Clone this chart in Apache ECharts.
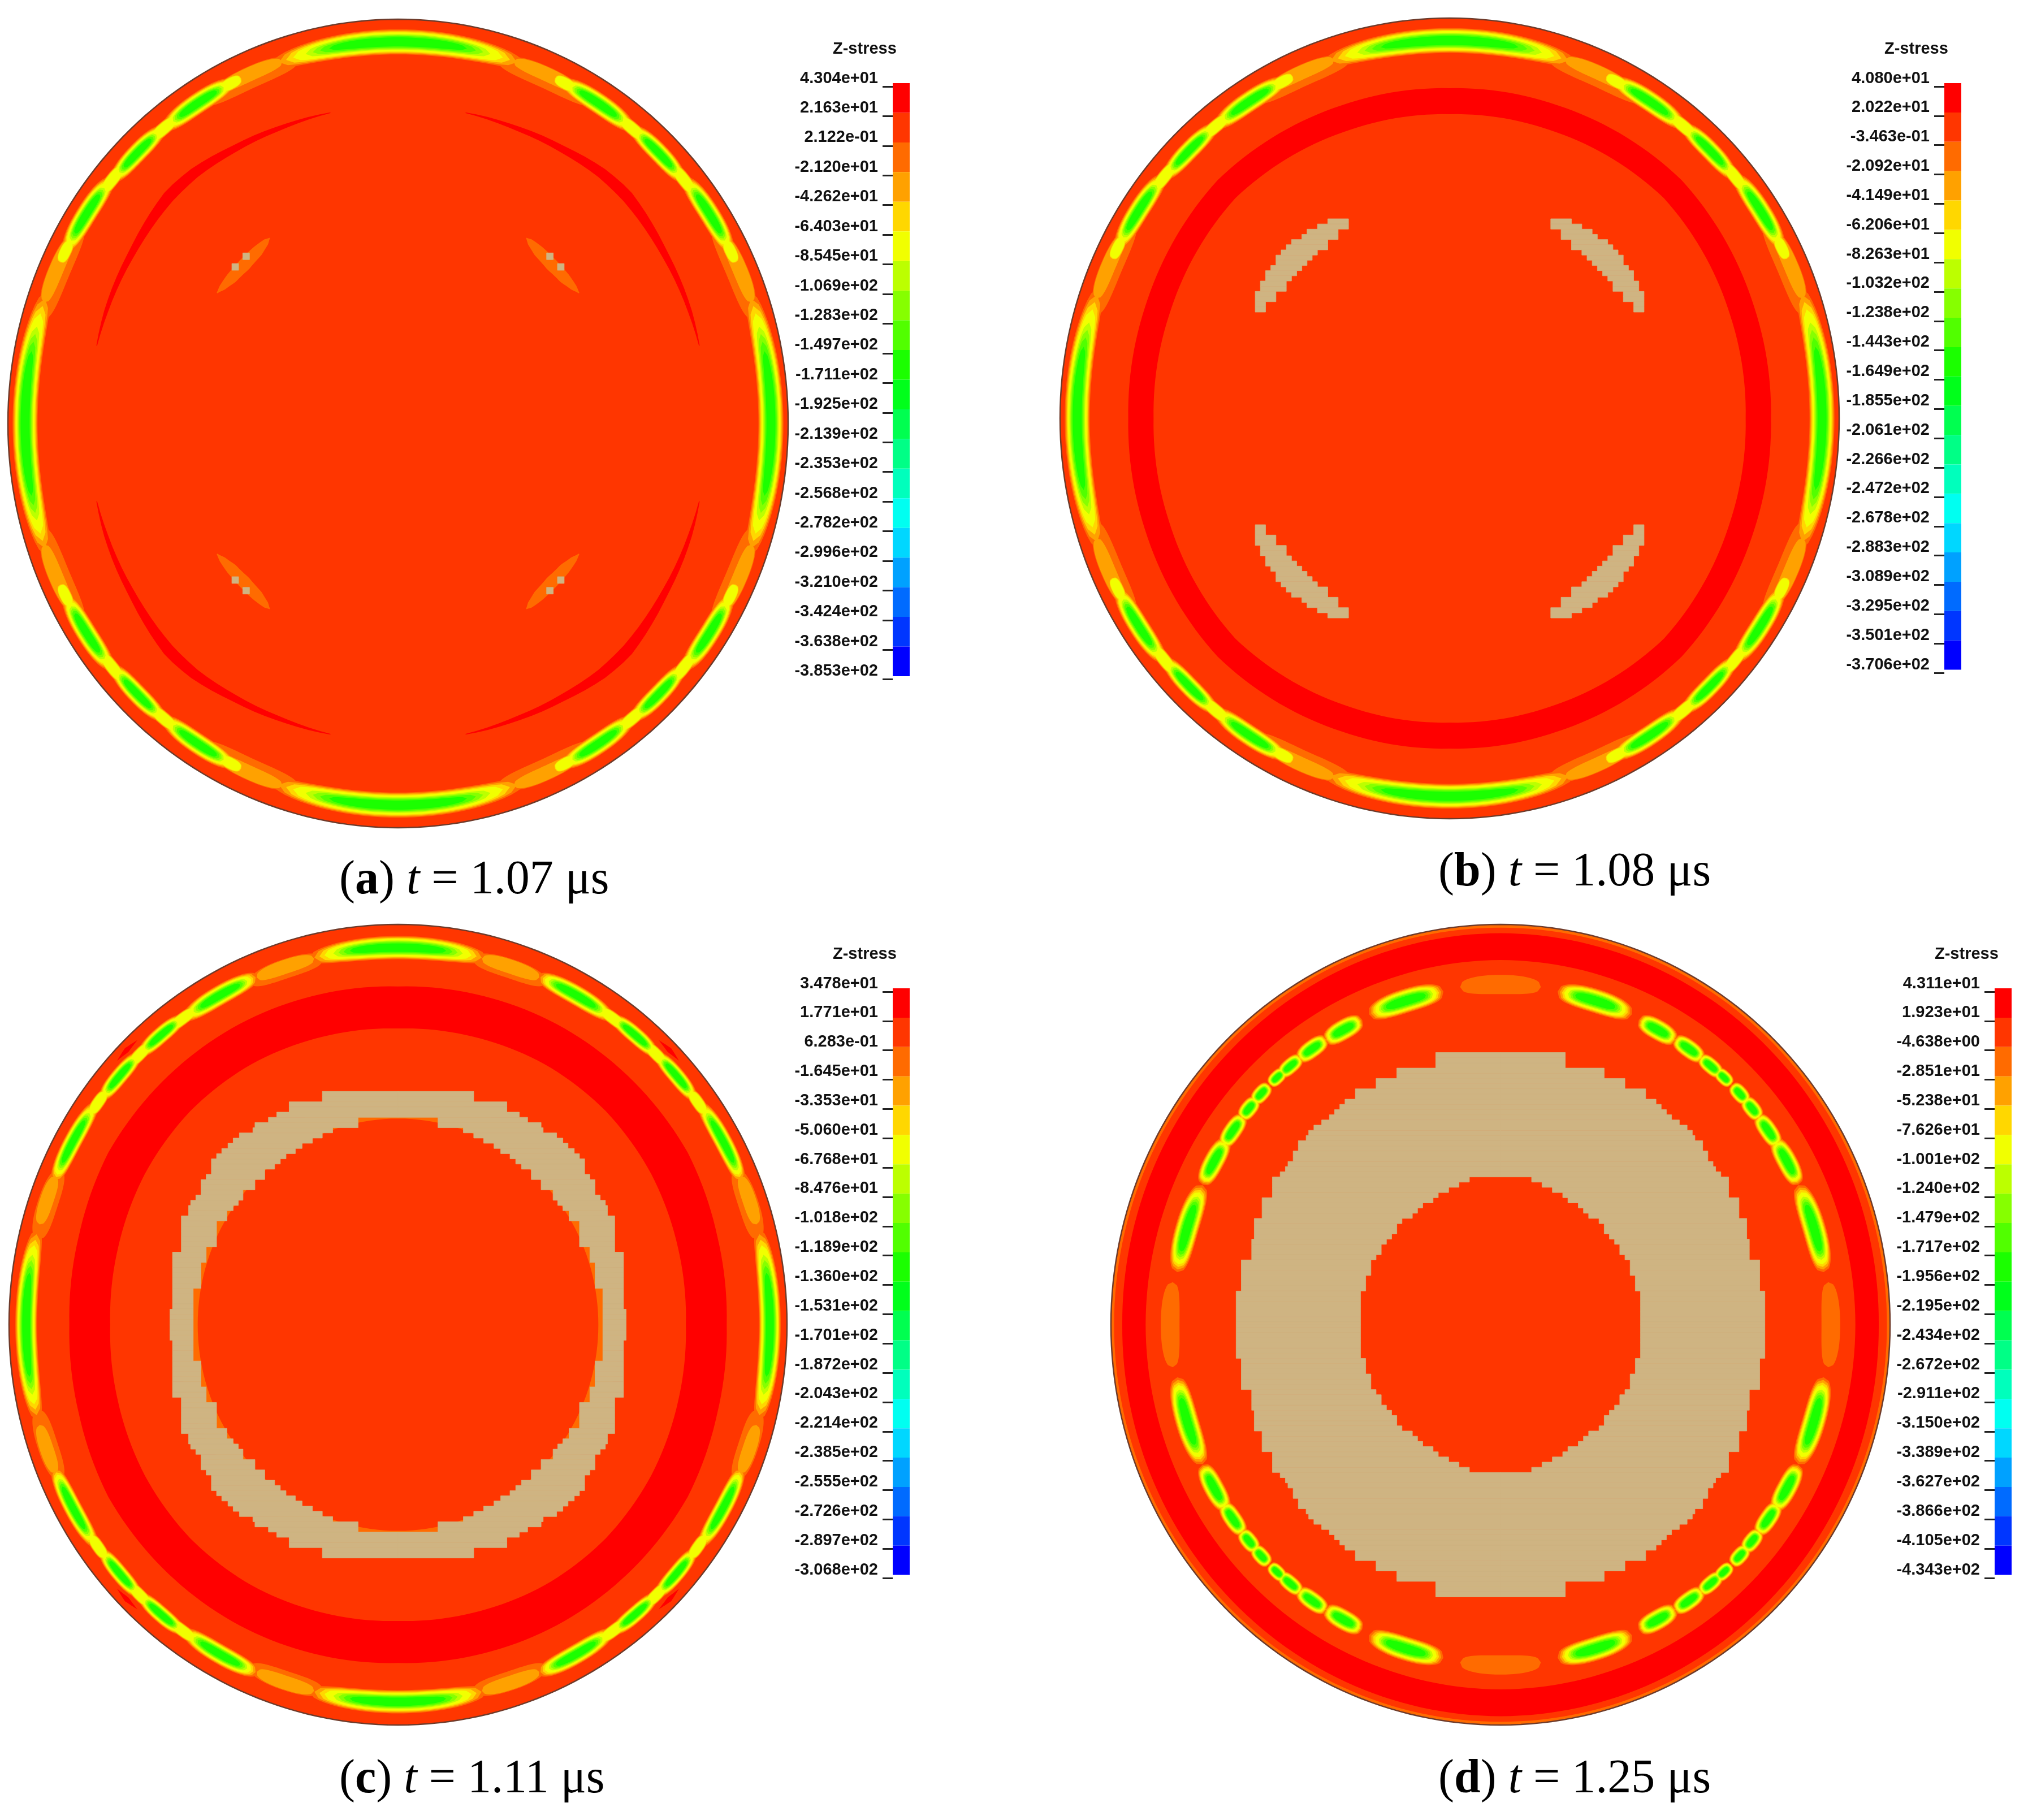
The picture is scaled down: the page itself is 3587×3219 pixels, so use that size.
<!DOCTYPE html>
<html><head><meta charset="utf-8">
<style>html,body{margin:0;padding:0;background:#fff}#c{width:3587px;height:3219px}</style>
<script src="https://cdn.jsdelivr.net/npm/echarts@6/dist/echarts.min.js"></script>
</head><body><div id="c"></div>
<script>
// ---------- colour levels of the Z-stress scale (top to bottom) ----------
const levelColors = ['#ff0000','#ff3600','#ff6b00','#ffa100','#ffd700','#f1ff00','#bcff00','#86ff00','#51ff00','#1bff00',
  '#00ff1b','#00ff50','#00ff86','#00ffbc','#00fff1','#00d7ff','#00a1ff','#006bff','#0036ff','#0000ff'];
const tanColor = '#cfb482';
// ---------- tick labels ----------
const ticksA = ['4.304e+01','2.163e+01','2.122e-01','-2.120e+01','-4.262e+01','-6.403e+01','-8.545e+01','-1.069e+02','-1.283e+02','-1.497e+02','-1.711e+02','-1.925e+02','-2.139e+02','-2.353e+02','-2.568e+02','-2.782e+02','-2.996e+02','-3.210e+02','-3.424e+02','-3.638e+02','-3.853e+02'];
const ticksB = ['4.080e+01','2.022e+01','-3.463e-01','-2.092e+01','-4.149e+01','-6.206e+01','-8.263e+01','-1.032e+02','-1.238e+02','-1.443e+02','-1.649e+02','-1.855e+02','-2.061e+02','-2.266e+02','-2.472e+02','-2.678e+02','-2.883e+02','-3.089e+02','-3.295e+02','-3.501e+02','-3.706e+02'];
const ticksC = ['3.478e+01','1.771e+01','6.283e-01','-1.645e+01','-3.353e+01','-5.060e+01','-6.768e+01','-8.476e+01','-1.018e+02','-1.189e+02','-1.360e+02','-1.531e+02','-1.701e+02','-1.872e+02','-2.043e+02','-2.214e+02','-2.385e+02','-2.555e+02','-2.726e+02','-2.897e+02','-3.068e+02'];
const ticksD = ['4.311e+01','1.923e+01','-4.638e+00','-2.851e+01','-5.238e+01','-7.626e+01','-1.001e+02','-1.240e+02','-1.479e+02','-1.717e+02','-1.956e+02','-2.195e+02','-2.434e+02','-2.672e+02','-2.911e+02','-3.150e+02','-3.389e+02','-3.627e+02','-3.866e+02','-4.105e+02','-4.343e+02'];
// ---------- rim lobes, first quadrant: [angle from, angle to, radius, half thickness, peak level] ----------
const lobesAB = [[58,74,.935,.026,2],[16,31,.945,.026,2],[60,72,.944,.019,3],[18,29,.955,.02,3],
  [47.5,53.5,.945,.017,5],[36.5,42.5,.949,.017,5],[61,65,.944,.017,5],[24.5,28.5,.953,.017,5],
  [70,110,.944,.031,10],[50.6,63.5,.944,.026,10],[39.5,50.6,.946,.024,10],[26.6,39.5,.952,.026,10],[-20,20,.956,.032,10]];
const lobesC = [[13,24,.95,.026,2],[66,78,.935,.024,2],[15,23,.955,.019,3],[67,77,.94,.019,3],
  [51,57,.944,.016,5],[43,48,.947,.016,5],[33.5,38,.95,.016,5],
  [76,104,.942,.029,9],[54.3,67.5,.942,.025,10],[45.5,54.3,.946,.021,10],[36.5,45.5,.948,.021,10],[22,35.5,.953,.023,10],[-14.5,14.5,.956,.028,10]];
const lobesD = [[66.5,80,.845,.03,10],[57.6,65,.84,.026,10],[51.9,58,.842,.023,10],[47.7,52.6,.842,.02,10],
  [45.3,48.9,.843,.018,9],[41.2,45.3,.843,.02,10],[37.7,42.1,.842,.021,10],[32,38.4,.841,.023,10],[24.6,33.4,.841,.026,10],[9,24.5,.84,.03,10],
  [-7.2,7.2,.848,.024,2],[83,97,.85,.024,2]];
// ---------- closed contours, first quadrant: [angle, inner radius, outer radius] ----------
const ringB = [[0,.76,.825],[20,.765,.83],[45,.778,.842],[70,.765,.83],[90,.76,.825]];
const ringC = [[0,.74,.845],[15,.745,.85],[30,.752,.86],[45,.755,.858],[60,.752,.855],[75,.745,.85],[90,.74,.845]];
const ringD = [[0,.911,.971],[20,.91,.973],[45,.91,.975],[70,.91,.977],[90,.911,.978]];
// ---------- open arcs, first quadrant: [angle, inner radius, outer radius] ----------
const arcRedA = [[14,.795,.797],[20,.793,.803],[32,.793,.811],[44,.798,.828],[50,.797,.823],[58,.79,.808],[68,.785,.796],[77.3,.787,.789]];
const arcOrangeA = [[34.8,.565,.566],[36.7,.554,.57],[40,.544,.572],[45,.54,.572],[50,.544,.572],[53,.554,.57],[54.4,.564,.565]];
const arcRedC = [[42.4,.978,.978],[44.5,.972,.985],[46.7,.977,.977]];
// ---------- blocky material cells, first quadrant: [row top, column from, column to, row height] ----------
const tanA = [[32.9,28.65,29.95,1.3],[30.85,30.75,32.05,1.3]];
const tanB = [[38.5,19.5,23.5],[37.5,19.5,25.5],[36.5,21.5,27.5],[35.5,21.5,28.5],[34.5,23.5,30.5],[33.5,23.5,31.5],[32.5,25.5,32.5],[31.5,26.5,33.5],[30.5,27.5,33.5],[29.5,28.5,34.5],[28.5,29.5,35.5],[27.5,30.5,35.5],[26.5,31.5,36.5],[25.5,31.5,36.5],[24.5,33.5,37.5],[23.5,33.5,37.5],[22.5,35.5,37.5],[21.5,35.5,37.5]];
const tanC = [[45,0,14.6],[44,0,14.6],[43,0,21],[42,0,21],[41,0,23.4],[40,7.7,25],[39,7.7,27.6],[38,12.6,28],[37,14.6,30.6],[36,16.5,31.8],[35,18.5,32.8],[34,19.8,34],[33,21.6,35],[32,22.7,36],[31,23.8,36],[30,25.7,36],[29,25.7,37],[28,27.6,38],[27,27.6,38],[26,29.9,38],[25,29.9,39],[24,30.8,40],[23,31.8,40.4],[22,33,40.4],[21,33,41.8],[20,35,41.8],[19,35,41.8],[18,35,41.8],[17,35,41.8],[16,35,41.8],[15,37,41.8],[14,37,43.5],[13,37,43.5],[12,38,43.5],[11,38,43.5],[10,38,43.5],[9,38,43.5],[8,38,43.5],[7,39.5,43.5],[6,39.5,43.5],[5,39.5,43.5],[4,39.5,43.5],[3,39.5,44],[2,39.5,44],[1,39.5,44]];
const tanD = [[52.5,0,12.5],[51.5,0,12.5],[50.5,0,12.5],[49.5,0,20],[48.5,0,20],[47.5,0,24],[46.5,0,24],[45.5,0,28],[44.5,0,28],[43.5,0,30],[42.5,0,31],[41.5,0,32],[40.5,0,33],[39.5,0,34.5],[38.5,0,36],[37.5,0,37],[36.5,0,37.5],[35.5,0,39],[34.5,0,39],[33.5,0,40],[32.5,0,40],[31.5,0,41],[30.5,0,41.5],[29.5,0,42.5],[28.5,6,44],[27.5,8,44],[26.5,10,44],[25.5,12,44],[24.5,13,46],[23.5,15,46],[22.5,16,46],[21.5,17,46],[20.5,19,47.5],[19.5,20,47.5],[18.5,20,47.5],[17.5,21,47.5],[16.5,22,48],[15.5,23,48],[14.5,23,48],[13.5,24,48],[12.5,25,50],[11.5,25,50],[10.5,25,50],[9.5,26,50],[8.5,26,50],[7.5,26,50],[6.5,27,51],[5.5,27,51],[4.5,27,51],[3.5,27,51],[2.5,27,51],[1.5,27,51],[0.5,27,51,0.5]];
const captions = [['a','1.07'],['b','1.08'],['c','1.11'],['d','1.25']];

// ---------- panel layout (pixels) ----------
const panels = [
 {cx:704, cy:749, rx:690,ry:715, lobes:lobesAB, tan:tanA, ticks:ticksA, barX:1579, tickTop:153, tickBot:1201.7, barTop:147, barBot:1196, capX:600, capBase:1592, titleTop:72,
  layers:[[null,0,1,1]], arcs:[[arcRedA,0],[arcOrangeA,2]]},
 {cx:2564,cy:740, rx:689,ry:708, lobes:lobesAB, tan:tanB, ticks:ticksB, barX:3439, tickTop:153, tickBot:1190, barTop:147, barBot:1184.6, capX:2544, capBase:1578, titleTop:72,
  layers:[[null,0,1,1],[ringB,2,0],[ringB,1,1]], arcs:[]},
 {cx:704, cy:2343,rx:688,ry:708, lobes:lobesC, tan:tanC, ticks:ticksC, barX:1579, tickTop:1754, tickBot:2791, barTop:1748, barBot:2785.6, capX:600, capBase:3182, titleTop:1673,
  layers:[[null,0,1,1],[ringC,2,0],[ringC,1,1]], arcs:[[arcRedC,0]], holeOrange:[.515,.57]},
 {cx:2654,cy:2343,rx:689,ry:708, lobes:lobesD, tan:tanD, ticks:ticksD, barX:3528, tickTop:1754, tickBot:2791, barTop:1748, barBot:2785.6, capX:2544, capBase:3182, titleTop:1673,
  layers:[[null,0,1,2],[null,0,.992,1],[ringD,2,0],[ringD,1,1]], arcs:[]}
];
const CELL = 9.17;
const LEVEL_THICK = {2:1,3:.92,4:.84,5:.76,6:.62,7:.54,8:.46,9:.36,10:.26};

function interp(nodes, a, col){
  for(let i=0;i<nodes.length-1;i++){
    if(a>=nodes[i][0]&&a<=nodes[i+1][0]){
      const t=(a-nodes[i][0])/(nodes[i+1][0]-nodes[i][0]);
      return nodes[i][col]+t*(nodes[i+1][col]-nodes[i][col]);
    }
  }
  return nodes[nodes.length-1][col];
}
const rad = a=>a*Math.PI/180;
const polar = (r,a)=>[r*Math.cos(rad(a)), r*Math.sin(rad(a))];

function mirrorLobes(list){
  const seen={}, out=[];
  list.forEach(b=>{
    [[b[0],b[1]],[180-b[1],180-b[0]],[-b[1],-b[0]],[180+b[0],180+b[1]]].forEach(p=>{
      const k=((p[0]+360)%360)+'_'+((p[1]+360)%360);
      if(seen[k]) return; seen[k]=1;
      out.push([p[0],p[1],b[2],b[3],b[4]]);
    });
  });
  const rows=[];
  for(let lv=2;lv<=10;lv++) out.forEach(b=>{ if(b[4]>=lv) rows.push([b[0],b[1],b[2],b[3],lv]); });
  return rows;
}
const grids=[], xAxes=[], yAxes=[], series=[], titles=[];
const baseCustom = (i,name,data,renderItem)=>({type:'custom',name,coordinateSystem:'cartesian2d',xAxisIndex:i,yAxisIndex:i,data,renderItem,silent:true,clip:false,animation:false,encode:{x:[],y:[]}});

panels.forEach((p,i)=>{
  grids.push({left:p.cx-p.rx,top:p.cy-p.ry,width:2*p.rx,height:2*p.ry,containLabel:false});
  xAxes.push({type:'value',gridIndex:i,min:-1,max:1,show:false});
  yAxes.push({type:'value',gridIndex:i,min:-1,max:1,show:false});
  series.push(baseCustom(i,'contours',p.layers.map((l,k)=>[k]),(params,api)=>{
    const l=p.layers[api.value(0)], pts=[];
    for(let a=0;a<360;a+=1.5){
      let f=a%180; if(f>90) f=180-f;
      const r=l[0]?interp(l[0],f,l[1]):l[2];
      pts.push(api.coord(polar(r,a)));
    }
    const level=l[0]?l[2]:l[3];
    const outline=!l[0]&&api.value(0)===0;
    return {type:'polygon',shape:{points:pts},style:{fill:levelColors[level],stroke:outline?'#6e3b2b':null,lineWidth:outline?2.5:0}};
  }));
  const arcRows=[];
  p.arcs.forEach((a,k)=>[[1,1],[-1,1],[1,-1],[-1,-1]].forEach(s=>arcRows.push([k,s[0],s[1]])));
  series.push(baseCustom(i,'arcs',arcRows,(params,api)=>{
    const arc=p.arcs[api.value(0)], sx=api.value(1), sy=api.value(2), n=arc[0], pts=[];
    const a0=n[0][0], a1=n[n.length-1][0];
    for(let a=a0;a<=a1+1e-6;a+=(a1-a0)/30){const q=polar(interp(n,a,2),a);pts.push(api.coord([sx*q[0],sy*q[1]]));}
    for(let a=a1;a>=a0-1e-6;a-=(a1-a0)/30){const q=polar(interp(n,a,1),a);pts.push(api.coord([sx*q[0],sy*q[1]]));}
    return {type:'polygon',shape:{points:pts},style:{fill:levelColors[arc[1]]}};
  }));
  series.push(baseCustom(i,'lobes',mirrorLobes(p.lobes),(params,api)=>{
    const a0=api.value(0),a1=api.value(1),rc=api.value(2),h=api.value(3),lv=api.value(4);
    const tf=LEVEL_THICK[lv], mid=(a0+a1)/2, half=(a1-a0)/2*(1-(1-tf)*.72), hh=h*tf, P=2.6, pts=[];
    for(let k=0;k<=32;k++){const t=-1+k/16; const d=Math.pow(1-Math.pow(Math.abs(t),P),1/P)*hh; pts.push(api.coord(polar(rc+d,mid+t*half)));}
    for(let k=32;k>=0;k--){const t=-1+k/16; const d=Math.pow(1-Math.pow(Math.abs(t),P),1/P)*hh; pts.push(api.coord(polar(rc-d,mid+t*half)));}
    return {type:'polygon',shape:{points:pts},style:{fill:levelColors[Math.min(lv,9)]}};
  }));
  if(p.holeOrange){
    series.push(baseCustom(i,'skin',[[p.holeOrange[1],2],[p.holeOrange[0],1]],(params,api)=>{
      const pts=[];for(let a=0;a<360;a+=2)pts.push(api.coord(polar(api.value(0),a)));
      return {type:'polygon',shape:{points:pts},style:{fill:levelColors[api.value(1)]}};
    }));
  }
  const rows=[];
  p.tan.forEach(r=>[[1,1],[-1,1],[1,-1],[-1,-1]].forEach(s=>rows.push([r[0],r[1],r[2],r[3]||1,s[0],s[1]])));
  const ux=CELL/p.rx, uy=CELL/p.ry;
  series.push(baseCustom(i,'cells',rows,(params,api)=>{
    const t=api.value(0),l=api.value(1),rr=api.value(2),hh=api.value(3),sx=api.value(4),sy=api.value(5);
    const a=api.coord([sx*l*ux,sy*t*uy]), b=api.coord([sx*rr*ux,sy*(t-hh)*uy]);
    return {type:'rect',shape:{x:Math.min(a[0],b[0]),y:Math.min(a[1],b[1]),width:Math.abs(a[0]-b[0]),height:Math.abs(a[1]-b[1])},style:{fill:tanColor,stroke:tanColor,lineWidth:.8}};
  }));
  titles.push({left:p.capX,top:p.capBase-76,text:`{p|(}{b|${captions[i][0]}}{p|) }{i|t}{p| = ${captions[i][1]} μs}`,padding:0,
    textStyle:{fontWeight:'normal',rich:{p:{fontFamily:'Liberation Serif',fontWeight:'normal',fontSize:84,color:'#000'},b:{fontFamily:'Liberation Serif',fontWeight:'bold',fontSize:84,color:'#000'},i:{fontFamily:'Liberation Serif',fontWeight:'normal',fontStyle:'italic',fontSize:84,color:'#000'}}}});
  titles.push({left:p.barX-106,top:p.titleTop,text:'Z-stress',padding:0,textStyle:{fontFamily:'Liberation Sans',fontWeight:'bold',fontSize:29,color:'#111'}});
});
panels.forEach((p,i)=>{
  const g1=grids.length;
  grids.push({left:p.barX,top:p.tickTop,width:30,height:p.tickBot-p.tickTop});
  xAxes.push({type:'value',gridIndex:g1,min:0,max:1,show:false});
  yAxes.push({type:'category',gridIndex:g1,data:p.ticks,inverse:true,boundaryGap:false,
    axisLine:{show:false},splitLine:{show:false},
    axisTick:{show:true,alignWithLabel:true,length:18,lineStyle:{color:'#222',width:3}},
    axisLabel:{show:true,interval:0,margin:26,verticalAlign:'bottom',fontFamily:'Liberation Sans',fontWeight:'bold',fontSize:29,color:'#111',hideOverlap:false}});
  const g2=grids.length;
  grids.push({left:p.barX,top:p.barTop,width:30,height:p.barBot-p.barTop});
  xAxes.push({type:'value',gridIndex:g2,min:0,max:1,show:false});
  yAxes.push({type:'category',gridIndex:g2,data:levelColors.map((c,k)=>k),inverse:true,show:false});
  series.push({type:'bar',name:'scale',xAxisIndex:g2,yAxisIndex:g2,barWidth:'100%',silent:true,animation:false,
    data:levelColors.map(c=>({value:1,itemStyle:{color:c}}))});
});
const chart=echarts.init(document.getElementById('c'),null,{renderer:'canvas'});
chart.setOption({backgroundColor:'#fff',animation:false,title:titles,grid:grids,xAxis:xAxes,yAxis:yAxes,series});
</script></body></html>
